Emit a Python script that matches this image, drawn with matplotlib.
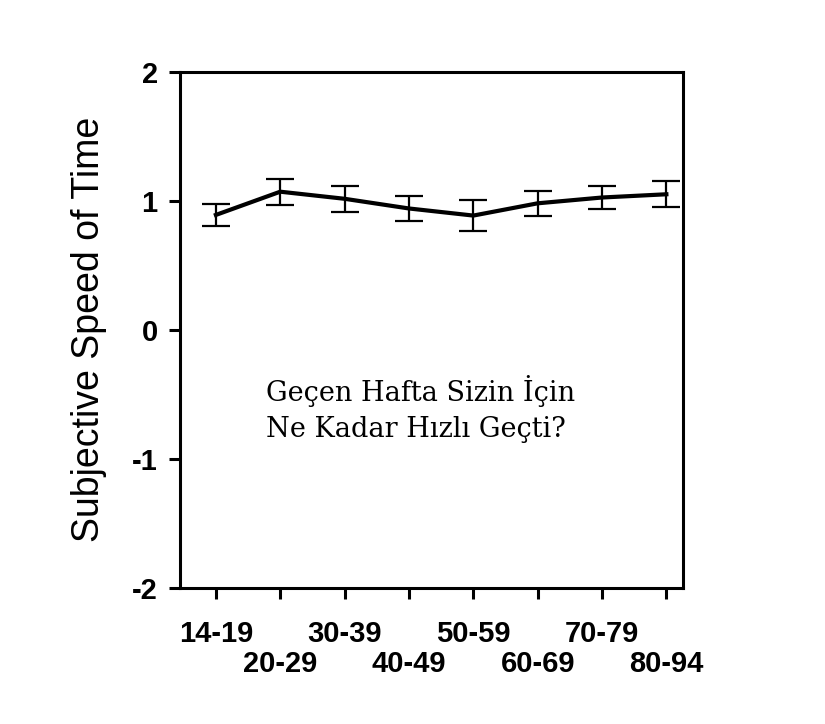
import matplotlib
matplotlib.use("Agg")
import matplotlib.pyplot as plt

# age groups and mean subjective speed with error bars
age_groups = ["14-19", "20-29", "30-39", "40-49", "50-59", "60-69", "70-79", "80-94"]
speed = [0.89, 1.07, 1.015, 0.94, 0.885, 0.98, 1.025, 1.05]
err = [0.085, 0.10, 0.10, 0.10, 0.12, 0.095, 0.09, 0.10]
y_ticks = [-2, -1, 0, 1, 2]

fig = plt.figure(figsize=(8.25, 7.24), dpi=100)
ax = fig.add_axes([0.218, 0.188, 0.610, 0.713])

x = list(range(len(age_groups)))
ax.errorbar(x, speed, yerr=err, color="black", lw=3.0, elinewidth=1.6,
            capsize=10, capthick=1.6)

ax.set_xlim(-0.56, 7.26)
ax.set_ylim(-2, 2)
ax.set_yticks(y_ticks)
ax.set_yticklabels([str(v) for v in y_ticks], fontsize=21, family="Liberation Sans",
                   weight="bold")

# staggered labels: even groups on the first row, odd groups on the second (minor ticks)
font = dict(fontsize=21, family="Liberation Sans", weight="bold")
ax.set_xticks(x[0::2], age_groups[0::2], **font)
ax.set_xticks(x[1::2], age_groups[1::2], minor=True, **font)

ax.tick_params(which="both", direction="out", length=8, width=2.2)
ax.tick_params(axis="x", which="major", pad=15)
ax.tick_params(axis="x", which="minor", pad=37)
ax.tick_params(axis="y", pad=8)
for s in ax.spines.values():
    s.set_linewidth(2.2)

ax.set_ylabel("Subjective Speed of Time", fontsize=27, family="Liberation Sans", labelpad=18)

ax.text(0.172, 0.347, "Geçen Hafta Sizin İçin\nNe Kadar Hızlı Geçti?",
        transform=ax.transAxes, fontsize=19.5, family="DejaVu Serif",
        linespacing=1.45, va="center", ha="left")

fig.savefig("out.png", dpi=100)
